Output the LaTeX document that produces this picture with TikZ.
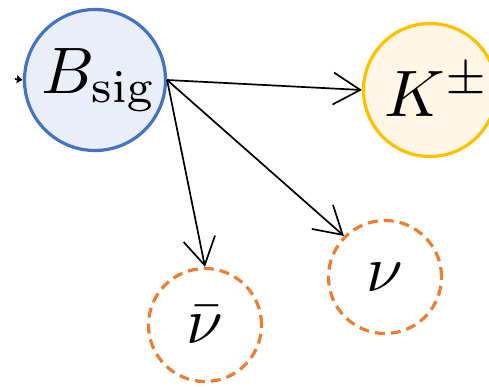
\documentclass[tikz,border=0pt]{standalone}
\usepackage{graphicx}
\usetikzlibrary{arrows.meta}
\definecolor{bblue}{HTML}{4472C4}
\definecolor{bfill}{HTML}{E9EEF8}
\definecolor{kgold}{HTML}{FFC000}
\definecolor{kfill}{HTML}{FFF6E6}
\definecolor{norange}{HTML}{ED7D31}
\newcommand{\bigtxt}[1]{\scalebox{6.6}{#1}}
\begin{document}
\begin{tikzpicture}[x=1bp,y=-1bp,
  ball/.style={circle,inner sep=0pt,line width=3.2bp},
  sigball/.style={ball,draw=bblue,fill=bfill,minimum size=141bp},
  kball/.style={ball,draw=kgold,fill=kfill,minimum size=133bp},
  nuball/.style={ball,draw=norange,dash pattern=on 10bp off 6bp,minimum size=113bp},
  arr/.style={line width=1.7bp,-{Straight Barb[length=27bp,width=32bp,line width=1.7bp]}}]
\useasboundingbox (0,0) rectangle (489,386);
\node[sigball] (B) at (95,80) {\hspace*{8bp}\bigtxt{$B_{\mathrm{sig}}$}};
\node[kball] (K) at (430,90) {\hspace*{14bp}\bigtxt{$K^{\pm}$}};
\node[nuball] (nb) at (205,325) {\bigtxt{$\bar{\nu}$}};
\node[nuball] (n) at (385,277) {\raisebox{-8bp}{\bigtxt{$\nu$}}};
\coordinate (in) at (15,79);
\draw[line width=1.7bp,-{Latex[length=6bp,width=9bp]}] (in) -- (B.west);
\draw[arr] (B.east) -- (K.west);
\draw[arr] (B.east) -- (nb.north);
\draw[arr] (B.east) -- (n.north west);
\end{tikzpicture}
\end{document}
